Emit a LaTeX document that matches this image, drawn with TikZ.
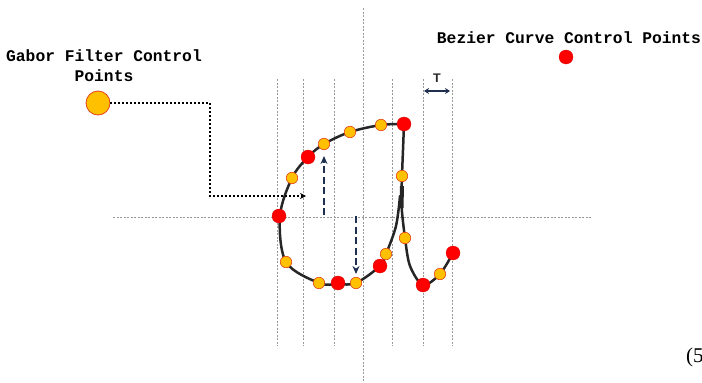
\documentclass[tikz,border=0pt]{standalone}
\usepackage{fontspec}
\setmainfont{Liberation Serif}
\setmonofont{Liberation Mono}
\newfontfamily\tsans{Liberation Sans}
\usepackage{tikz}
\usetikzlibrary{arrows.meta}
\definecolor{gold}{HTML}{FFC000}
\definecolor{goldrim}{HTML}{E2431A}
\definecolor{bzred}{HTML}{FF0000}
\definecolor{navy}{HTML}{1F2F4F}
\tikzset{
  vline/.style={draw=gray!80, dash pattern=on 2pt off 1.5pt, line width=0.7pt},
  gb/.style={circle, fill=gold, draw=goldrim, line width=0.6pt, inner sep=0pt, minimum size=11.5pt},
  bz/.style={circle, fill=bzred, draw=red!85!black, line width=0.3pt, inner sep=0pt, minimum size=14pt},
  stroke/.style={draw=black!85, line width=2.5pt, line cap=round, line join=round},
  lbl/.style={font=\ttfamily\bfseries\fontsize{16.3}{20}\selectfont, align=center, inner sep=0pt},
  navyarr/.style={draw=navy, line width=2.3pt, dash pattern=on 7pt off 3.5pt, -{Stealth[length=8pt,width=7pt]}}
}
\begin{document}
\begin{tikzpicture}[x=1pt, y=-1pt]
\useasboundingbox (0,0) rectangle (702,383);
\foreach \gx in {277,303,334,392,423,452}
  \draw[vline] (\gx,79) -- (\gx,346);
\draw[vline] (363,8) -- (363,383);
\draw[vline] (113,217) -- (592,217);

\draw[stroke] plot[smooth, tension=0.55] coordinates {(404,124) (381,125) (350,132) (324,144) (308,157) (292,178) (280,216) (286,262) (319,283) (338,284) (356,283) (380,266) (386,254) (396,226) (400,196)};
\draw[stroke] plot[smooth, tension=0.5] coordinates {(404,124) (403,150) (402,176) (401.5,205) (405,238) (410,266) (423,285) (440,274) (453,253)};
\draw[stroke, line width=4pt, line cap=butt] (402,186) -- (401.5,208);

\node[bz] (bz1) at (404,124) {};
\node[gb] (gb1) at (381,125) {};
\node[gb] (gb2) at (350,132) {};
\node[gb] (gb3) at (324,144) {};
\node[bz] (bz2) at (308,157) {};
\node[gb] (gb4) at (292,178) {};
\node[bz] (bz3) at (279,216) {};
\node[gb] (gb5) at (286,262) {};
\node[gb] (gb6) at (319,283) {};
\node[bz] (bz4) at (338,283) {};
\node[gb] (gb7) at (356,283) {};
\node[bz] (bz5) at (380,266) {};
\node[gb] (gb8) at (386,254) {};
\node[gb] (gb9) at (402,176) {};
\node[gb] (gb10) at (405,238) {};
\node[bz] (bz6) at (423,285) {};
\node[gb] (gb11) at (440,274) {};
\node[bz] (bz7) at (453,253) {};

\coordinate (upst) at (324,215);
\coordinate (upend) at (324,156);
\coordinate (dnst) at (356,216);
\coordinate (dnend) at (356,274);
\draw[navyarr] (upst) -- (upend);
\draw[navyarr] (dnst) -- (dnend);

\node[lbl] (gaborlbl) at (104,66) {Gabor Filter Control\\Points};
\node[gb, minimum size=24pt, line width=0.8pt] (gaborpt) at (98,103) {};
\coordinate (gabturn) at (210,103);
\coordinate (gabend) at (306,196);
\draw[line width=2pt, dotted, -{Stealth[length=6pt,width=6pt]}] (gaborpt.east) -- (gabturn) |- (gabend);

\node[lbl] (bezlbl) at (569,38) {Bezier Curve Control Points};
\node[bz] (bezpt) at (566,57) {};

\coordinate (tl) at (424,91);
\coordinate (tr) at (450,91);
\draw[navy, line width=1.5pt, {Stealth[length=5pt,width=6pt]}-{Stealth[length=5pt,width=6pt]}] (tl) -- (tr);
\node[font=\tsans\bfseries\fontsize{12.5}{14}\selectfont, text=black!85, inner sep=0pt] (tlbl) at (437,78) {T};

\node[font=\fontsize{21}{25}\selectfont, anchor=west, inner sep=0pt] (eqnum) at (686,357) {(5};
\end{tikzpicture}
\end{document}
